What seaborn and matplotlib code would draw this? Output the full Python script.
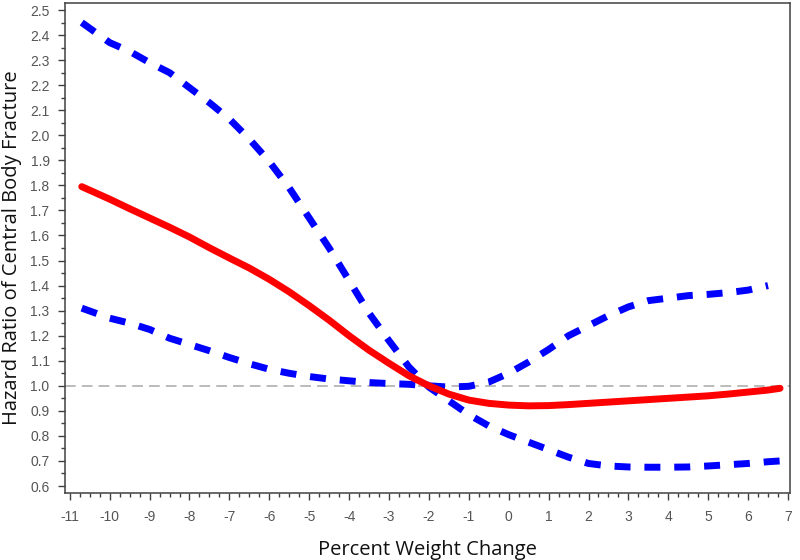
import matplotlib
matplotlib.use("Agg")
import matplotlib.pyplot as plt
import seaborn as sns
import numpy as np
from matplotlib.ticker import MultipleLocator, AutoMinorLocator

# ---- data ----
weight_change = [-10.7, -10, -9.5, -9, -8.5, -8, -7.5, -7, -6.5, -6, -5.5, -5, -4.5, -4,
                 -3.5, -3, -2.5, -2, -1.5, -1, -0.5, 0, 0.5, 1, 1.5, 2, 2.5, 3, 3.5, 4,
                 4.5, 5, 5.5, 6, 6.5, 6.8]
hazard_ratio = [1.795, 1.745, 1.707, 1.670, 1.633, 1.594, 1.551, 1.510, 1.470, 1.425,
                1.375, 1.320, 1.262, 1.200, 1.142, 1.090, 1.040, 1.000, 0.967, 0.943,
                0.930, 0.923, 0.920, 0.921, 0.925, 0.930, 0.935, 0.940, 0.945, 0.950,
                0.955, 0.960, 0.967, 0.975, 0.983, 0.990]
ci_band_a = [2.450, 2.370, 2.335, 2.290, 2.250, 2.190, 2.130, 2.065, 1.985, 1.895,
             1.790, 1.670, 1.550, 1.420, 1.290, 1.180, 1.075, 0.995, 0.940, 0.885,
             0.840, 0.805, 0.775, 0.745, 0.715, 0.690, 0.680, 0.676, 0.675, 0.675,
             0.676, 0.680, 0.685, 0.690, 0.697, 0.700]
ci_band_b = [1.310, 1.270, 1.250, 1.225, 1.190, 1.165, 1.140, 1.113, 1.088, 1.066,
             1.050, 1.037, 1.027, 1.020, 1.013, 1.009, 1.006, 1.000, 0.995, 0.998,
             1.015, 1.050, 1.095, 1.145, 1.200, 1.240, 1.280, 1.315, 1.340, 1.350,
             1.360, 1.365, 1.372, 1.382, 1.400]
x_ticks = list(range(-11, 8))
y_ticks = [round(0.6 + 0.1 * i, 1) for i in range(20)]
x_label = "Percent Weight Change"
y_label = "Hazard Ratio of Central Body Fracture"

sns.set_theme(style="white")
plt.rcParams['font.family'] = ['Liberation Sans', 'DejaVu Sans']

fig = plt.figure(figsize=(8, 5.6), dpi=100)
ax = fig.add_axes([0.081, 0.1196, 0.9065, 0.875])

ax.axhline(1.0, color="#a8a8a8", lw=1.1, dashes=(7, 4), zorder=1)

sns.lineplot(x=weight_change, y=ci_band_a, ax=ax, color="#0000ff", lw=5, zorder=3)
ax.lines[-1].set_dashes((2.3, 2.0))
ax.lines[-1].set_dash_capstyle("butt")
sns.lineplot(x=weight_change[:len(ci_band_b)], y=ci_band_b, ax=ax, color="#0000ff", lw=5,
             zorder=3)
ax.lines[-1].set_dashes((2.3, 2.0))
ax.lines[-1].set_dash_capstyle("butt")
sns.lineplot(x=weight_change, y=hazard_ratio, ax=ax, color="#ff0000", lw=5, zorder=4)
ax.lines[-1].set_solid_capstyle("round")

ax.set_xlim(-11.125, 7.05)
ax.set_ylim(0.572, 2.528)
ax.set_xticks(x_ticks)
ax.set_xticklabels([str(v) for v in x_ticks])
ax.set_yticks(y_ticks)
ax.set_yticklabels([f"{v:.1f}" for v in y_ticks])
ax.xaxis.set_minor_locator(AutoMinorLocator(4))
ax.yaxis.set_minor_locator(AutoMinorLocator(2))

for s in ax.spines.values():
    s.set_visible(True)
    s.set_color("#404040")
    s.set_linewidth(1.1)

ax.tick_params(axis="both", which="major", direction="out", length=5, width=1,
               color="#404040", labelcolor="#555555", labelsize=10)
ax.tick_params(axis="both", which="minor", direction="out", length=3, width=1,
               color="#404040")
ax.tick_params(axis="x", which="major", pad=7, bottom=True)
ax.tick_params(axis="x", which="minor", bottom=True)
ax.tick_params(axis="y", which="major", pad=6, left=True)
ax.tick_params(axis="y", which="minor", left=True)

ax.set_xlabel(x_label, fontsize=14.5, family=["Open Sans", "DejaVu Sans"], labelpad=12,
              color="#111111")
ax.set_ylabel(y_label, fontsize=14.5, family=["Open Sans", "DejaVu Sans"], labelpad=6,
              color="#111111")

fig.savefig("out.png", dpi=100)
